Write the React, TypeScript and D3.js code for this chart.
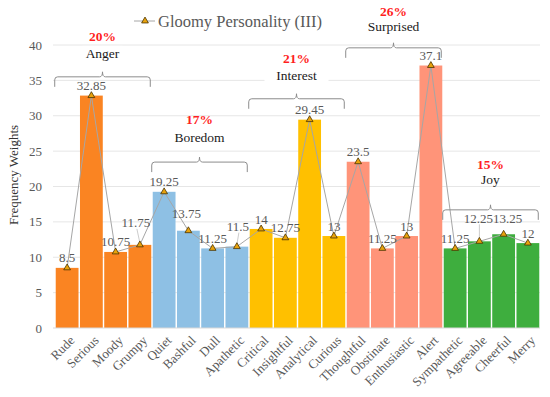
import * as d3 from 'd3'

const categories = [
  'Rude', 'Serious', 'Moody', 'Grumpy',
  'Quiet', 'Bashful', 'Dull', 'Apathetic',
  'Critical', 'Insightful', 'Analytical', 'Curious',
  'Thoughtful', 'Obstinate', 'Enthusiastic', 'Alert',
  'Sympathetic', 'Agreeable', 'Cheerful', 'Merry',
]
const weights = [
  8.5, 32.85, 10.75, 11.75,
  19.25, 13.75, 11.25, 11.5,
  14, 12.75, 29.45, 13,
  23.5, 11.25, 13, 37.1,
  11.25, 12.25, 13.25, 12,
]
const groupNames = ['Anger', 'Boredom', 'Interest', 'Surprised', 'Joy']
const groupShares = ['20%', '17%', '21%', '26%', '15%']
const groupSize = 4
const yTicks = [0, 5, 10, 15, 20, 25, 30, 35, 40]
const seriesName = 'Gloomy Personality (III)'

// layout only
const groupColors = ['#FA8422', '#8EC0E4', '#FFC000', '#FF9479', '#3EAE3E']
const bracketLevel = [35.5, 23.45, 32.4, 39.6, 16.7] // in value units
const nameOffset = [24, 25, 23, 22, 31]
const shareOffset = [41, 43, 40, 37, 46]
const labelNudge: Record<string, [number, number]> = {
  Grumpy: [-4, -12],
  Bashful: [-2, -7],
  Apathetic: [1, -10],
  Agreeable: [-1, -13],
  Cheerful: [4, -6],
}
const leaderLines = ['Grumpy', 'Apathetic', 'Agreeable']

const W = 550
const H = 397
const FONT = 'Liberation Serif, DejaVu Serif'
const GRAY = '#595959'

export default function App() {
  const x = d3.scaleBand<string>().domain(categories).range([55, 540]).paddingInner(0.06).paddingOuter(0.03)
  const y = d3.scaleLinear().domain([0, 40]).range([328, 45])
  const bw = x.bandwidth()
  const cx = (c: string) => (x(c) || 0) + bw / 2

  const line = d3
    .line<number>()
    .x((_, i) => cx(categories[i]))
    .y((v) => y(v))
  const tri = d3.symbol(d3.symbolTriangle, 20)()

  const bracketPath = (x0: number, x1: number, yy: number) => {
    const mid = (x0 + x1) / 2
    return `M${x0},${yy + 10} L${x0},${yy + 3} Q${x0},${yy} ${x0 + 3},${yy} L${mid - 3},${yy} Q${mid},${yy} ${mid},${yy - 5} Q${mid},${yy} ${mid + 3},${yy} L${x1 - 3},${yy} Q${x1},${yy} ${x1},${yy + 3} L${x1},${yy + 10}`
  }

  return (
    <svg width={W} height={H} fontFamily={FONT} style={{ position: 'absolute', left: 0, top: 0 }}>
      <rect width={W} height={H} fill="#fff" />
      {yTicks.map((t) => (
        <g key={t}>
          {t > 0 && <line x1={53} x2={540} y1={y(t)} y2={y(t)} stroke="#E6E6E6" strokeWidth={1} />}
          <text x={42} y={y(t)} dy="0.35em" textAnchor="end" fontSize={13} fill={GRAY}>
            {t}
          </text>
        </g>
      ))}
      <text
        transform={`translate(18, 175) rotate(-90)`}
        textAnchor="middle"
        fontSize={13}
        fill="#333"
      >
        Frequency Weights
      </text>

      {categories.map((c, i) => (
        <rect
          key={c}
          x={x(c)}
          y={y(weights[i])}
          width={bw}
          height={y(0) - y(weights[i])}
          fill={groupColors[Math.floor(i / groupSize)]}
        />
      ))}
      <line x1={53} x2={540} y1={y(0)} y2={y(0)} stroke="#D9D9D9" />

      {categories.map((c) => (
        <text
          key={c}
          transform={`translate(${cx(c) + 5}, 338) rotate(-45)`}
          textAnchor="end"
          dy="0.35em"
          fontSize={13}
          fill={GRAY}
        >
          {c}
        </text>
      ))}

      <path d={line(weights) || ''} fill="none" stroke="#A6A6A6" strokeWidth={1} />

      {categories.map((c, i) => {
        const [dx, dy] = labelNudge[c] || [0, 0]
        const lx = cx(c) + dx
        const ly = y(weights[i]) - 10 + dy
        return (
          <g key={c}>
            {leaderLines.includes(c) && (
              <line x1={lx + 1} y1={ly + 6} x2={cx(c)} y2={y(weights[i]) - 2} stroke="#BFBFBF" strokeWidth={0.8} />
            )}
            <text x={lx} y={ly} dy="0.35em" textAnchor="middle" fontSize={13} fill={GRAY}>
              {weights[i]}
            </text>
          </g>
        )
      })}

      {categories.map((c, i) => (
        <path
          key={c}
          d={tri || ''}
          transform={`translate(${cx(c)}, ${y(weights[i])})`}
          fill="#E8A20C"
          stroke="#4A3300"
          strokeWidth={0.8}
        />
      ))}

      {groupNames.map((g, gi) => {
        const first = categories[gi * groupSize]
        const last = categories[gi * groupSize + groupSize - 1]
        const x0 = (x(first) || 0) - 1
        const x1 = (x(last) || 0) + bw - 1
        const yy = y(bracketLevel[gi])
        const mid = (x0 + x1) / 2
        return (
          <g key={g}>
            <path d={bracketPath(x0, x1, yy)} fill="none" stroke="#8C8C8C" strokeWidth={1} />
            <rect x={mid - g.length * 4} y={yy - nameOffset[gi] - 7} width={g.length * 8} height={14} fill="#fff" />
            <text x={mid} y={yy - nameOffset[gi]} dy="0.35em" textAnchor="middle" fontSize={13.5} fill="#1a1a1a">
              {g}
            </text>
            <text
              x={mid}
              y={yy - shareOffset[gi]}
              dy="0.35em"
              textAnchor="middle"
              fontSize={13.5}
              fontWeight="bold"
              fill="#FF1F1F"
            >
              {groupShares[gi]}
            </text>
          </g>
        )
      })}

      <g>
        <line x1={134} x2={155} y1={21} y2={21} stroke="#A6A6A6" strokeWidth={1} />
        <path d={tri || ''} transform="translate(145, 21)" fill="#E8A20C" stroke="#4A3300" strokeWidth={0.8} />
        <text x={158} y={21} dy="0.35em" fontSize={16.5} fill={GRAY}>
          {seriesName}
        </text>
      </g>
    </svg>
  )
}
